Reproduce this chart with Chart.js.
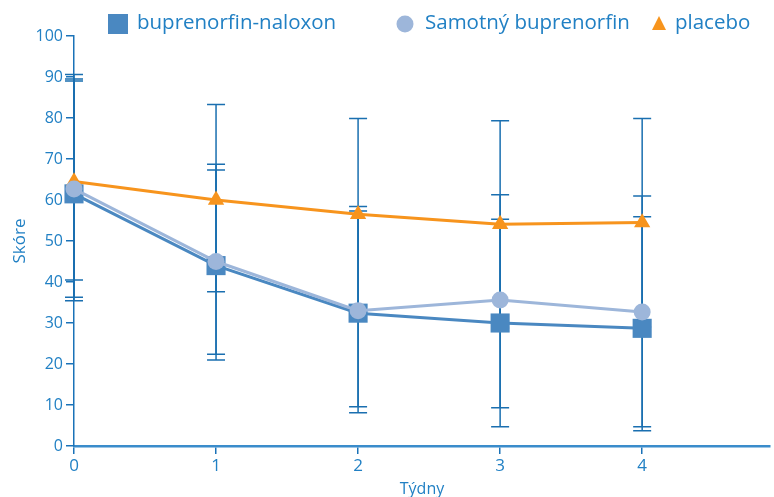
<!DOCTYPE html>
<html><head><meta charset="utf-8">
<script src="https://cdn.jsdelivr.net/npm/chart.js@4"></script>
<style>html,body{margin:0;padding:0;background:#fff}#wrap{width:774px;height:497px}</style>
</head><body><div id="wrap"><canvas id="c" width="774" height="497"></canvas></div>
<script>
// ---- data ----
const weeks = [0, 1, 2, 3, 4];
const seriesNames = ['buprenorfin-naloxon', 'Samotný buprenorfin', 'placebo'];
const naloxonMean = [61.5, 44.0, 32.4, 30.0, 28.7];
const naloxonLow  = [35.4, 21.0, 8.1, 4.7, 3.7];
const naloxonHigh = [89.0, 67.3, 57.3, 55.3, 55.9];
const aloneMean = [62.7, 45.0, 33.0, 35.6, 32.7];
const aloneLow  = [36.3, 22.4, 9.6, 9.3, 4.7];
const aloneHigh = [89.5, 68.7, 58.4, 61.3, 61.0];
const placeboMean = [64.5, 60.0, 56.5, 54.1, 54.5];
const placeboLow  = [40.5, 37.6, 33.0, 28.8, 29.0];
const placeboHigh = [90.6, 83.3, 79.9, 79.3, 79.9];
const yTicks = [0, 10, 20, 30, 40, 50, 60, 70, 80, 90, 100];
const xTitle = 'Týdny';
const yTitle = 'Skóre';

const FONT = "'Open Sans',sans-serif";
const TXT = '#2180c4';
const AXIS = '#1a72b8';
const ERR = '#1a6fb0';
const C_NAL = '#4a88c1', C_ALO = '#9db6da', C_PLA = '#f7941d';

const toXY = (arr) => arr.map((v, i) => ({x: weeks[i], y: v}));

const errorBars = [
  {low: naloxonLow, high: naloxonHigh},
  {low: aloneLow, high: aloneHigh},
  {low: placeboLow, high: placeboHigh}
];

const errPlugin = {
  id: 'errbars',
  beforeDatasetsDraw(chart) {
    const {ctx, scales: {x, y}} = chart;
    ctx.save();
    ctx.strokeStyle = ERR;
    ctx.lineWidth = 1.5;
    errorBars.forEach(eb => {
      weeks.forEach((w, i) => {
        const px = x.getPixelForValue(w);
        const yl = y.getPixelForValue(eb.low[i]);
        const yh = y.getPixelForValue(eb.high[i]);
        ctx.beginPath();
        ctx.moveTo(px, yl); ctx.lineTo(px, yh);
        ctx.moveTo(px - 9, yl); ctx.lineTo(px + 9, yl);
        ctx.moveTo(px - 9, yh); ctx.lineTo(px + 9, yh);
        ctx.stroke();
      });
    });
    ctx.restore();
  }
};

const legendItems = [
  {text: seriesNames[0], color: C_NAL, shape: 'rect', x: 108},
  {text: seriesNames[1], color: C_ALO, shape: 'circle', x: 396},
  {text: seriesNames[2], color: C_PLA, shape: 'tri', x: 652}
];
const legendPlugin = {
  id: 'customLegend',
  afterDraw(chart) {
    const ctx = chart.ctx;
    ctx.save();
    const cy = 24;
    legendItems.forEach(it => {
      ctx.fillStyle = it.color;
      let tx;
      if (it.shape === 'rect') { ctx.fillRect(it.x, cy - 10, 20, 20); tx = it.x + 29; }
      else if (it.shape === 'circle') { ctx.beginPath(); ctx.arc(it.x + 9, cy, 8.5, 0, Math.PI * 2); ctx.fill(); tx = it.x + 29; }
      else { ctx.beginPath(); ctx.moveTo(it.x + 7, cy - 8); ctx.lineTo(it.x + 14, cy + 6); ctx.lineTo(it.x, cy + 6); ctx.closePath(); ctx.fill(); tx = it.x + 23; }
      ctx.fillStyle = TXT;
      ctx.font = '20.5px ' + FONT;
      ctx.textBaseline = 'middle';
      ctx.textAlign = 'left';
      ctx.fillText(it.text, tx, cy - 1);
    });
    ctx.restore();
  }
};

new Chart(document.getElementById('c'), {
  type: 'line',
  data: {
    datasets: [
      {label: seriesNames[0], data: toXY(naloxonMean), borderColor: C_NAL, backgroundColor: C_NAL, clip: false,
       borderWidth: 3, pointStyle: 'rect', pointRadius: 13.5, pointBorderWidth: 0, order: 2},
      {label: seriesNames[1], data: toXY(aloneMean), borderColor: C_ALO, backgroundColor: C_ALO, clip: false,
       borderWidth: 3, pointStyle: 'circle', pointRadius: 8.5, pointBorderWidth: 0, order: 0},
      {label: seriesNames[2], data: toXY(placeboMean), borderColor: C_PLA, backgroundColor: C_PLA, clip: false,
       borderWidth: 3, pointStyle: 'triangle', pointRadius: 9.4, pointBorderWidth: 0, order: 1}
    ]
  },
  options: {
    responsive: false,
    animation: false,
    devicePixelRatio: 1,
    layout: {autoPadding: false, padding: {top: 36, right: 4, bottom: 0, left: 0}},
    plugins: {legend: {display: false}, tooltip: {enabled: false}},
    elements: {line: {tension: 0}},
    scales: {
      x: {
        type: 'linear', min: 0, max: 4.9,
        afterFit(s) { s.height = 51; },
        ticks: {stepSize: 1, includeBounds: false, color: TXT, padding: 2,
                font: {family: FONT, size: 17}},
        grid: {drawOnChartArea: false, tickLength: 8, color: AXIS, lineWidth: 1.5},
        border: {color: '#3a8ccb', width: 2.5},
        title: {display: true, text: xTitle, color: TXT, padding: 0,
                font: {family: FONT, size: 16, lineHeight: 1}}
      },
      y: {
        min: 0, max: 100,
        afterFit(s) { s.width = 74; },
        afterBuildTicks(s) { s.ticks = yTicks.map(v => ({value: v})); },
        ticks: {color: TXT, padding: 3, font: {family: FONT, size: 16}},
        grid: {drawOnChartArea: false, tickLength: 8, color: AXIS, lineWidth: 1.5},
        border: {color: AXIS, width: 1.5},
        title: {display: true, text: yTitle, color: TXT, padding: {top: 10, bottom: 0},
                font: {family: FONT, size: 17}}
      }
    }
  },
  plugins: [errPlugin, legendPlugin]
});
</script></body></html>
